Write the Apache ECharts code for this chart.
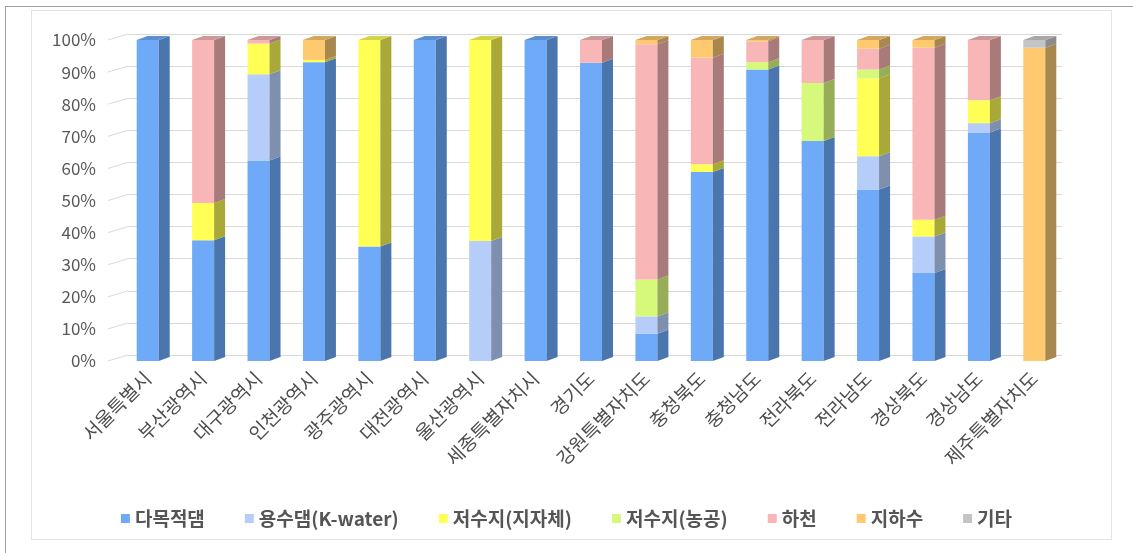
<!DOCTYPE html>
<html>
<head>
<meta charset="utf-8">
<script src="https://cdn.jsdelivr.net/npm/echarts@6/dist/echarts.min.js"></script>
<style>
  html, body { margin: 0; padding: 0; background: #fff; }
  #outer { position: absolute; left: 5px; top: 6px; width: 1140px; height: 560px; border-left: 1px solid #a0a0a0; border-top: 1px solid #a0a0a0; }
  #frame { position: absolute; left: 31px; top: 10px; width: 1079px; height: 528px; border: 1px solid #e3e3e3; }
  #main { position: absolute; left: 0; top: 0; width: 1133px; height: 553px; }
</style>
</head>
<body>
<div id="outer"></div>
<div id="frame"></div>
<div id="main"></div>
<script>
var regions = ['서울특별시', '부산광역시', '대구광역시', '인천광역시', '광주광역시', '대전광역시', '울산광역시', '세종특별자치시', '경기도', '강원특별자치도', '충청북도', '충청남도', '전라북도', '전라남도', '경상북도', '경상남도', '제주특별자치도']
var seriesNames = ['다목적댐', '용수댐(K-water)', '저수지(지자체)', '저수지(농공)', '하천', '지하수', '기타']

// 비율(%) - 그림에서 읽은 값
var damMulti   = [100, 37.6, 62.5, 93.1, 35.7, 100, 0, 100, 92.9, 8.5, 58.9, 90.8, 68.5, 53.4, 27.4, 71.2, 0]
var damWater   = [0, 0, 26.8, 0, 0, 0, 37.4, 0, 0, 5.4, 0, 0, 0, 10.4, 11.4, 2.9, 0]
var resLocal   = [0, 11.6, 9.6, 0.7, 64.3, 0, 62.6, 0, 0, 0, 2.4, 0, 0, 24.2, 5.2, 7.1, 0]
var resFarm    = [0, 0, 0, 0, 0, 0, 0, 0, 0, 11.5, 0, 2.3, 18.1, 2.8, 0, 0, 0]
var river      = [0, 50.8, 1.1, 0, 0, 0, 0, 0, 7.1, 73.3, 33.2, 6.5, 13.4, 6.5, 53.6, 18.8, 0]
var ground     = [0, 0, 0, 6.2, 0, 0, 0, 0, 0, 1.3, 5.5, 0.4, 0, 2.7, 2.4, 0, 97.6]
var etc        = [0, 0, 0, 0, 0, 0, 0, 0, 0, 0, 0, 0, 0, 0, 0, 0, 2.4]
var yTicks = [0, 10, 20, 30, 40, 50, 60, 70, 80, 90, 100]

var allData = [damMulti, damWater, resLocal, resFarm, river, ground, etc]
// 앞면, 옆면, 윗면 색
var colors = [
  ['#6eaaf7', '#4a76ad', '#5b8fd2'],
  ['#b7cdf9', '#7f8fae', '#9cafd6'],
  ['#ffff55', '#a9a93a', '#d4d448'],
  ['#d6f97c', '#97ad57', '#b5d26a'],
  ['#f9b6b6', '#a87a7a', '#cf9898'],
  ['#ffc970', '#a8884e', '#d4a75f'],
  ['#c4c4c4', '#8c8c8c', '#a8a8a8']
]

var W = 22, DX = 11, DY = 4

// 누적값 계산
var bases = regions.map(function () { return 0 })
var tops = regions.map(function (r, i) {
  var last = -1
  allData.forEach(function (arr, s) { if (arr[i] > 0) last = s })
  return last
})

var series = allData.map(function (arr, s) {
  var data = []
  arr.forEach(function (v, i) {
    if (v > 0) data.push([i, bases[i], v, tops[i] === s ? 1 : 0])
    bases[i] += v
  })
  return {
    name: seriesNames[s],
    type: 'custom',
    xAxisIndex: 0,
    yAxisIndex: 0,
    itemStyle: { color: colors[s][0] },
    data: data,
    renderItem: function (params, api) {
      var idx = api.value(0)
      var b = api.value(1)
      var t = b + api.value(2)
      var p0 = api.coord([idx, b])
      var p1 = api.coord([idx, t])
      var x = p0[0] - W / 2
      var children = [
        { type: 'rect', shape: { x: x, y: p1[1], width: W, height: p0[1] - p1[1] }, style: { fill: colors[s][0] } },
        { type: 'polygon', shape: { points: [[x + W, p1[1]], [x + W + DX, p1[1] - DY], [x + W + DX, p0[1] - DY], [x + W, p0[1]]] }, style: { fill: colors[s][1] } }
      ]
      if (api.value(3) === 1) {
        children.push({ type: 'polygon', shape: { points: [[x, p1[1]], [x + DX, p1[1] - DY], [x + W + DX, p1[1] - DY], [x + W, p1[1]]] }, style: { fill: colors[s][2] } })
      }
      return { type: 'group', children: children }
    }
  }
})

// 왼쪽 벽 사선
series.push({
  type: 'custom',
  xAxisIndex: 0,
  yAxisIndex: 0,
  silent: true,
  data: yTicks.map(function (v) { return [0, v] }),
  renderItem: function (params, api) {
    var p = api.coord([0, api.value(1)])
    var left = params.coordSys.x
    return { type: 'line', shape: { x1: left - 12, y1: p[1], x2: left + 8, y2: p[1] - 6 }, style: { stroke: '#d9d9d9', lineWidth: 1 } }
  }
})

var chart = echarts.init(document.getElementById('main'))
chart.setOption({
  animation: false,
  legend: {
    data: seriesNames,
    bottom: 20,
    left: 'center',
    icon: 'rect',
    itemWidth: 9,
    itemHeight: 9,
    itemGap: 40,
    textStyle: { fontFamily: 'Noto Sans CJK KR', fontSize: 19, fontWeight: 'bold', color: '#555555' }
  },
  grid: [
    { left: 120, right: 71, top: 40, bottom: 192 },
    { left: 128, right: 71, top: 34, bottom: 198 }
  ],
  xAxis: [
    {
      type: 'category',
      gridIndex: 0,
      data: regions,
      axisLine: { show: false },
      axisTick: { show: false },
      axisLabel: { rotate: 45, interval: 0, margin: 14, fontFamily: 'Noto Sans CJK KR', fontSize: 19, color: '#4d4d4d' }
    },
    { type: 'category', gridIndex: 1, data: regions, show: false }
  ],
  yAxis: [
    {
      type: 'value',
      gridIndex: 0,
      min: 0, max: 100, interval: 10,
      splitLine: { show: false },
      axisLine: { show: false },
      axisTick: { show: false },
      axisLabel: { margin: 24, formatter: '{value}%', fontFamily: 'Noto Sans CJK KR', fontSize: 17, color: '#595959' }
    },
    {
      type: 'value',
      gridIndex: 1,
      min: 0, max: 100, interval: 10,
      axisLine: { show: false },
      axisTick: { show: false },
      axisLabel: { show: false },
      splitLine: { lineStyle: { color: '#d9d9d9' } }
    }
  ],
  series: series
})
</script>
</body>
</html>
